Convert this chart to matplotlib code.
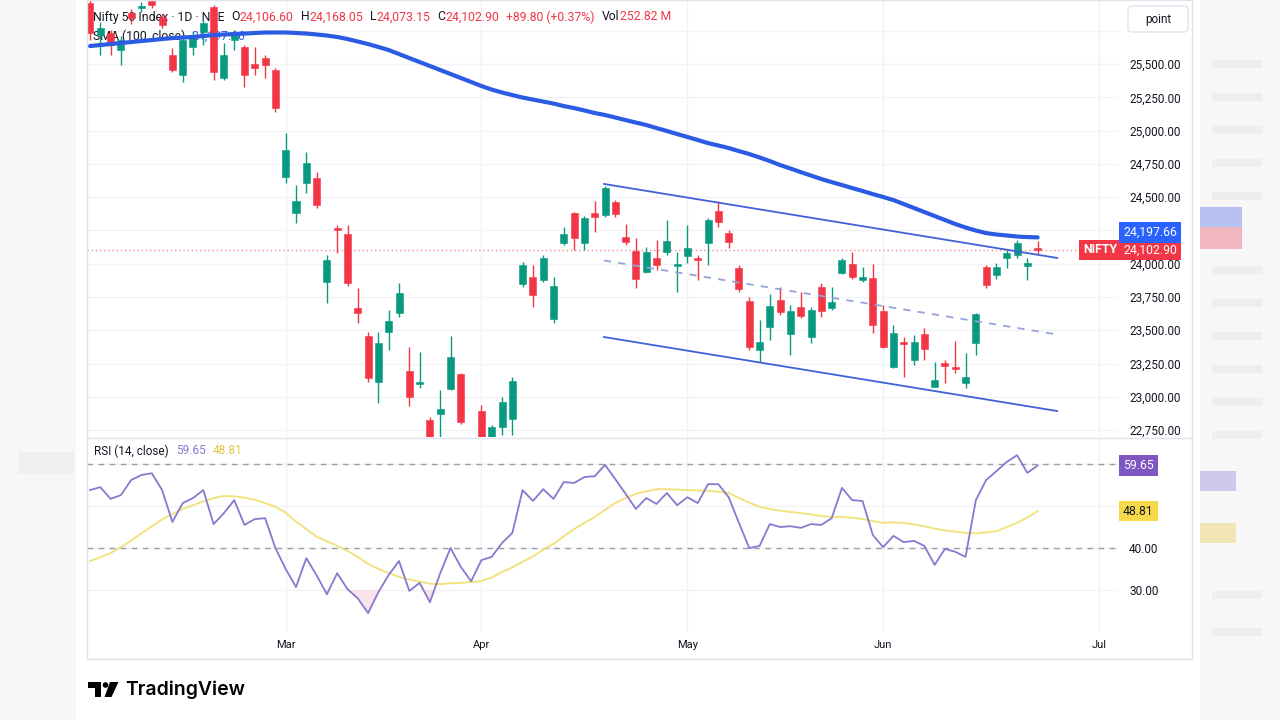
import matplotlib
matplotlib.use("Agg")
import matplotlib.pyplot as plt
from matplotlib import transforms
from matplotlib.lines import Line2D
from matplotlib.patches import Rectangle, FancyBboxPatch, Circle, Polygon
import numpy as np

W, H = 1280, 720
plt.rcParams["font.family"] = ["Roboto", "DejaVu Sans"]

TEXT = "#131722"
UP = "#089981"
DOWN = "#F23645"
SMA_COL = "#2B5BE3"
RSI_COL = "#8878CF"
RSI_MA_COL = "#F2E27F"
GRID = "#f1f2f5"
BORDER = "#e0e3eb"

# ---- data (NIFTY 50, daily) ----
opens = [25958, 25718, 25733, 25605, 25883, 25921, 25970, 25853, 25568, 25417,
         25628, 25741, 25928, 25395, 25680, 25628, 25500, 25545, 25455, 24651,
         24381, 24606, 24644, 23862, 24268, 24223, 23667, 23457, 23111, 23487,
         23629, 23194, 23096, 22825, 22871, 23059, 23171, 22620, 22893, 22650,
         22773, 22833, 23847, 23900, 23877, 23584, 24155, 24381, 24155, 24381,
         24366, 24463, 24200, 24095, 23937, 24043, 24088, 23983, 24058, 24043,
         24155, 24396, 24230, 23968, 23720, 23351, 23524, 23727, 23472, 23675,
         23449, 23825, 23667, 23930, 23998, 23877, 23892, 23644, 23224, 23412,
         23276, 23472, 23073, 23254, 23224, 23104, 23404, 23975, 23915, 24043,
         24065, 23983, 24106.60]
highs = [25996, 25816, 25756, 25711, 25913, 25966, 25989, 25876, 25620, 25695,
         25741, 25831, 25943, 25658, 25756, 25643, 25628, 25568, 25470, 24982,
         24591, 24839, 24689, 24065, 24291, 24291, 23817, 23487, 23487, 23652,
         23855, 23374, 23336, 22846, 23051, 23457, 23179, 22680, 22938, 22788,
         22998, 23149, 24013, 23990, 24065, 23900, 24276, 24388, 24358, 24471,
         24584, 24478, 24298, 24193, 24125, 24178, 24328, 24088, 24291, 24065,
         24343, 24471, 24253, 23990, 23750, 23577, 23772, 23825, 23690, 23787,
         23675, 23855, 23825, 24043, 24088, 23975, 23998, 23690, 23539, 23449,
         23464, 23517, 23261, 23276, 23419, 23329, 23629, 23990, 24005, 24103,
         24178, 24043, 24168.05]
lows = [25680, 25568, 25568, 25493, 25801, 25891, 25921, 25771, 25440, 25365,
        25568, 25643, 25380, 25380, 25605, 25327, 25417, 25395, 25140, 24606,
        24306, 24531, 24418, 23705, 24080, 23832, 23554, 23111, 22953, 23351,
        23599, 22931, 23066, 22563, 22638, 23051, 22795, 22350, 22600, 22580,
        22713, 22713, 23825, 23675, 23862, 23554, 24140, 24103, 24103, 24238,
        24351, 24351, 24140, 23817, 23930, 23952, 24065, 23787, 24005, 23877,
        23990, 24276, 24118, 23787, 23351, 23261, 23427, 23614, 23314, 23592,
        23404, 23599, 23652, 23922, 23885, 23862, 23479, 23366, 23216, 23149,
        23239, 23276, 23073, 23104, 23179, 23066, 23314, 23817, 23885, 23968,
        24043, 23877, 24073.15]
closes = [25733, 25771, 25643, 25680, 25846, 25936, 25947, 25793, 25455, 25680,
          25703, 25808, 25440, 25568, 25733, 25417, 25470, 25493, 25170, 24854,
          24471, 24756, 24441, 24028, 24253, 23855, 23629, 23141, 23404, 23569,
          23780, 22998, 23111, 22638, 22908, 23299, 22810, 22440, 22675, 22773,
          22961, 23119, 23990, 23765, 24043, 23832, 24223, 24193, 24343, 24351,
          24569, 24373, 24163, 23885, 24088, 23990, 24170, 23998, 24118, 24028,
          24328, 24313, 24163, 23810, 23374, 23412, 23682, 23637, 23644, 23607,
          23652, 23644, 23712, 24028, 23900, 23900, 23539, 23374, 23479, 23396,
          23412, 23359, 23126, 23231, 23209, 23149, 23622, 23840, 23975, 24080,
          24155, 24005, 24102.90]
sma100 = [25635, 25643, 25650, 25658, 25665, 25673, 25680, 25688, 25695, 25699,
          25703, 25710, 25718, 25722, 25725, 25729, 25733, 25737, 25737, 25737,
          25733, 25729, 25722, 25714, 25703, 25688, 25669, 25650, 25628, 25605,
          25575, 25545, 25515, 25485, 25455, 25425, 25395, 25365, 25335, 25308,
          25286, 25267, 25248, 25233, 25218, 25203, 25184, 25169, 25151, 25132,
          25117, 25098, 25079, 25060, 25042, 25019, 24997, 24974, 24952, 24929,
          24906, 24888, 24869, 24846, 24824, 24798, 24771, 24741, 24715, 24688,
          24662, 24636, 24613, 24591, 24568, 24546, 24523, 24501, 24478, 24448,
          24418, 24388, 24358, 24328, 24298, 24272, 24249, 24230, 24219, 24212,
          24204, 24200, 24197.66]
rsi = [53.8, 54.5, 51.7, 52.6, 56.2, 57.4, 57.8, 53.8, 46.2, 50.7,
       51.9, 53.8, 45.7, 48.3, 51.4, 45.5, 46.9, 47.1, 40.0, 35.0,
       30.7, 37.6, 33.5, 29.0, 34.0, 30.2, 28.0, 24.5, 29.5, 33.6,
       36.9, 29.8, 31.7, 27.1, 34.0, 40.0, 35.5, 32.1, 37.1, 37.9,
       41.2, 43.6, 53.8, 51.2, 54.0, 51.7, 55.7, 55.5, 56.9, 57.1,
       59.8, 56.4, 52.9, 49.3, 51.9, 50.5, 53.1, 50.2, 52.1, 50.7,
       55.2, 55.2, 52.1, 46.0, 40.0, 40.5, 45.7, 45.0, 45.2, 44.8,
       45.7, 45.5, 47.1, 54.3, 51.4, 51.2, 43.1, 40.2, 42.9, 41.4,
       41.7, 40.5, 36.0, 39.8, 39.1, 37.9, 51.4, 56.2, 58.3, 60.5,
       62.1, 57.9, 59.65]
rsi_ma = [36.9, 37.8, 38.8, 40.2, 41.8, 43.5, 45.2, 46.8, 48.1, 49.3,
          50.2, 51.1, 51.9, 52.4, 52.3, 52.0, 51.5, 50.7, 49.8, 48.4,
          46.3, 44.5, 42.7, 41.6, 40.5, 39.3, 37.9, 36.2, 35.0, 34.0,
          33.1, 32.5, 32.0, 31.5, 31.4, 31.6, 31.7, 31.9, 32.1, 33.0,
          34.3, 35.4, 36.7, 38.0, 39.6, 41.0, 42.8, 44.5, 46.0, 47.4,
          49.1, 50.7, 51.9, 52.9, 53.5, 54.0, 54.0, 53.9, 53.8, 53.7,
          53.6, 53.4, 53.1, 51.9, 50.8, 49.8, 49.3, 48.9, 48.6, 48.3,
          48.0, 47.6, 47.4, 47.4, 47.2, 46.9, 46.4, 46.0, 46.1, 46.0,
          45.6, 45.2, 44.6, 44.2, 43.9, 43.6, 43.5, 43.7, 44.0, 45.0,
          46.0, 47.3, 48.81]
month_labels = ["Mar", "Apr", "May", "Jun", "Jul"]
month_bars = [19, 38, 58, 77, 98]
price_levels = [22750, 23000, 23250, 23500, 23750, 24000, 24250, 24500,
                24750, 25000, 25250, 25500, 25750]
hidden_levels = [24250, 25750]        # covered by the price tags / "point" button
rsi_levels = [30, 40, 50, 60]
rsi_hidden = [50, 60]                 # covered by the RSI value tags
rsi_bands = [60, 40]

# channel drawn on the chart: (bar, price) end points
channel_upper = [(49.9, 24599), (93.9, 24043)]
channel_mid = [(49.9, 24024), (93.9, 23468)]
channel_lower = [(49.9, 23449), (93.9, 22893)]

# ---- figure ----
fig = plt.figure(figsize=(12.8, 7.2), dpi=100)
fig.patch.set_facecolor("white")
PX = transforms.Affine2D().scale(1 / W, -1 / H).translate(0, 1) + fig.transFigure
renderer = fig.canvas.get_renderer()

# blurred side strips of the screenshot
fig.patches.append(Rectangle((0, 0), 76, 720, transform=PX, fc="#f7f7f7", ec="none"))
fig.patches.append(Rectangle((1200, 0), 80, 720, transform=PX, fc="#f7f7f7", ec="none"))
fig.patches.append(Rectangle((18, 452), 56, 22, transform=PX, fc="#efefef", ec="none"))
for yy in [64, 97, 130, 163, 196, 270, 303, 336, 369, 402, 435, 595, 632]:
    fig.patches.append(Rectangle((1212, yy - 4), 50, 8, transform=PX, fc="#eeeeee", ec="none"))
fig.patches.append(Rectangle((1200, 207), 42, 20, transform=PX, fc="#8d9cf0", ec="none", alpha=0.6))
fig.patches.append(Rectangle((1200, 227), 42, 22, transform=PX, fc="#ec8f99", ec="none", alpha=0.6))
fig.patches.append(Rectangle((1200, 471), 36, 20, transform=PX, fc="#b6aae6", ec="none", alpha=0.6))
fig.patches.append(Rectangle((1200, 523), 36, 20, transform=PX, fc="#f0da8a", ec="none", alpha=0.6))

L, R = 87, 1118
ax = fig.add_axes([L / W, 1 - 437 / H, (R - L) / W, 437 / H])
ax_rsi = fig.add_axes([L / W, 1 - 632 / H, (R - L) / W, (632 - 438) / H])
for a in (ax, ax_rsi):
    a.set_xlim(-0.29, 99.8)
    for s in a.spines.values():
        s.set_visible(False)
    a.set_xticks(month_bars)
    a.grid(True, color=GRID, lw=1)
    a.set_axisbelow(True)
    a.yaxis.tick_right()
    a.tick_params(axis="y", length=0, pad=8, labelsize=8.5, labelcolor=TEXT)

ax.set_ylim(22698, 25981)
ax.set_yticks(price_levels)
ax.set_yticklabels(["" if v in hidden_levels else f"{v:,.2f}" for v in price_levels])
ax.tick_params(axis="x", length=0, labelbottom=False)

# candles
idx = np.arange(len(closes))
for i, (o, hi, lo, c) in enumerate(zip(opens, highs, lows, closes)):
    col = UP if c >= o else DOWN
    ax.vlines(i, lo, hi, color=col, lw=1, zorder=3)
    ax.add_patch(Rectangle((i - 0.34, min(o, c)), 0.68, max(abs(c - o), 12),
                           fc=col, ec=col, lw=0.4, zorder=4))

ax.plot(idx, sma100, color=SMA_COL, lw=3, solid_capstyle="round", zorder=5)

for pts, style in [(channel_upper, "-"), (channel_lower, "-"), (channel_mid, (0, (4, 4)))]:
    (x0, y0), (x1, y1) = pts
    ax.plot([x0, x1], [y0, y1], color="#4060d8" if style == "-" else "#95a3da",
            lw=1.3, ls=style, zorder=4.5)

ax.axhline(closes[-1], xmax=(1080 - L) / (R - L), color=DOWN, lw=1,
           ls=(0, (1, 2)), alpha=0.6, zorder=2)

# RSI pane
ax_rsi.set_ylim(20, 66.2)
ax_rsi.set_yticks(rsi_levels)
ax_rsi.set_yticklabels(["" if v in rsi_hidden else f"{v:.2f}" for v in rsi_levels])
ax_rsi.set_xticklabels(month_labels)
ax_rsi.tick_params(axis="x", length=0, pad=6, labelsize=8, labelcolor=TEXT)
for b in rsi_bands:
    ax_rsi.axhline(b, color="#9a9ca5", lw=1, ls=(0, (4, 4)), zorder=2)
rsi_arr = np.array(rsi)
ax_rsi.fill_between(idx, rsi_arr, 30, where=rsi_arr < 30, interpolate=True,
                    color="#f6c3cf", alpha=0.45, lw=0, zorder=2)
ax_rsi.plot(idx, rsi_ma, color=RSI_MA_COL, lw=1.4, zorder=3)
ax_rsi.plot(idx, rsi, color=RSI_COL, lw=1.3, zorder=4)

# frame lines
fig.patches.append(Rectangle((87, 0), 1105, 659, transform=PX, fill=False, ec=BORDER, lw=1))
fig.lines.append(Line2D([87, 1192], [437.5, 437.5], transform=PX, color=BORDER, lw=1))


def seq(target, x, y, parts, size=8.8, z=1):
    for s, col, gap in parts:
        t = target.text(x, y, s, transform=PX, color=col, fontsize=size,
                        va="center", ha="left", zorder=z)
        x += t.get_window_extent(renderer).width + gap


seq(ax, 93, 17, [
    ("Nifty 50 Index · 1D · NSE", TEXT, 7),
    ("O", TEXT, 0), (f"{opens[-1]:,.2f}", DOWN, 7),
    ("H", TEXT, 0), (f"{highs[-1]:,.2f}", DOWN, 7),
    ("L", TEXT, 0), (f"{lows[-1]:,.2f}", DOWN, 7),
    ("C", TEXT, 0), (f"{closes[-1]:,.2f}", DOWN, 7),
    ("+89.80 (+0.37%)", DOWN, 7),
    ("Vol", TEXT, 0), ("252.82 M", DOWN, 0),
])
seq(ax, 93, 36, [("SMA (100, close)", TEXT, 6), (f"{sma100[-1]:,.2f}", SMA_COL, 0)])
seq(ax_rsi, 94, 451, [("RSI (14, close)", TEXT, 7), (f"{rsi[-1]:.2f}", RSI_COL, 7),
                      (f"{rsi_ma[-1]:.2f}", "#e3c640", 0)], size=8.5)

# price-scale labels
tp = transforms.blended_transform_factory(PX, ax.transData)
tag = dict(fontsize=8.8, va="center", zorder=10, clip_on=False)
ax.text(1123, closes[-1], f"{closes[-1]:,.2f}", transform=tp, color="white", ha="left",
        bbox=dict(boxstyle="square,pad=0.32", fc=DOWN, ec="none"), **tag)
ax.text(1100, closes[-1], "NIFTY", transform=tp, color="white", ha="center",
        fontweight="bold", bbox=dict(boxstyle="square,pad=0.32", fc=DOWN, ec="none"), **tag)
tp_up = transforms.offset_copy(tp, fig=fig, x=0, y=5, units="dots")
ax.text(1123, sma100[-1], f"{sma100[-1]:,.2f}", transform=tp_up, color="white", ha="left",
        bbox=dict(boxstyle="square,pad=0.32", fc="#2962FF", ec="none"), **tag)
tr = transforms.blended_transform_factory(PX, ax_rsi.transData)
ax_rsi.text(1123, rsi[-1], f"{rsi[-1]:.2f}", transform=tr, color="white", ha="left",
            bbox=dict(boxstyle="square,pad=0.32", fc="#7E57C2", ec="none"), **tag)
ax_rsi.text(1123, rsi_ma[-1], f"{rsi_ma[-1]:.2f}", transform=tr, color=TEXT, ha="left",
            bbox=dict(boxstyle="square,pad=0.32", fc="#F7D94C", ec="none"), **tag)

# "point" button
fig.patches.append(FancyBboxPatch((1128, 6), 60, 26, boxstyle="round,pad=0,rounding_size=4",
                                  transform=PX, fc="white", ec=BORDER, lw=1))
fig.text(1158, 19, "point", transform=PX, fontsize=8.5, color=TEXT, ha="center", va="center")

# TradingView logo
fig.patches.append(Rectangle((88, 682), 13, 5.5, transform=PX, fc="black", ec="none"))
fig.patches.append(Rectangle((95, 682), 6, 15, transform=PX, fc="black", ec="none"))
fig.patches.append(Circle((105.5, 685), 2.8, transform=PX, fc="black", ec="none"))
fig.patches.append(Polygon([(110, 682), (118.5, 682), (111.5, 697), (104.5, 697)],
                           transform=PX, fc="black", ec="none"))
fig.text(125, 690, "TradingView", transform=PX, fontsize=14, color="black",
         ha="left", va="center", family=["Inter", "DejaVu Sans"], fontweight="semibold")

fig.savefig("out.png", dpi=100, facecolor="white")
